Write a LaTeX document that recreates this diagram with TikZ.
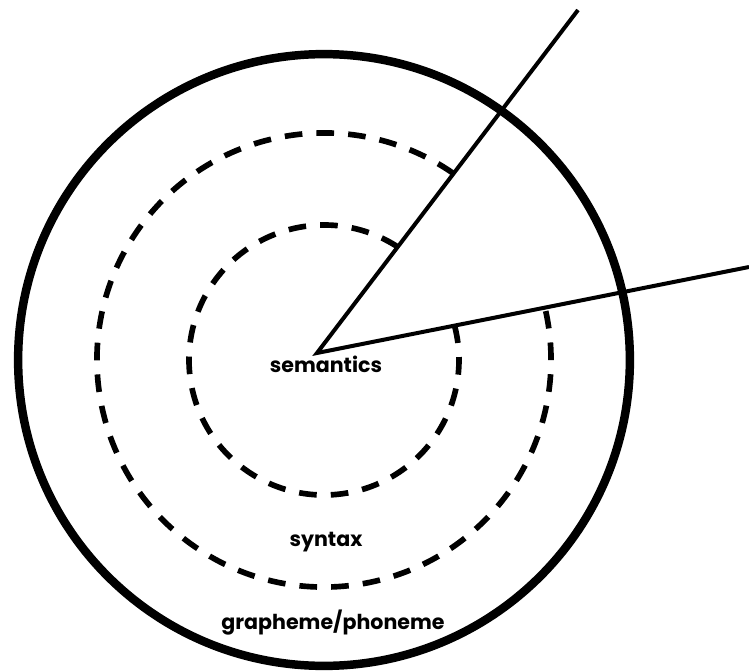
\documentclass[tikz,border=0pt]{standalone}
\usepackage{fontspec}
\setmainfont{Poppins}
\usetikzlibrary{calc}

\begin{document}
\begin{tikzpicture}[
  x=0.85pt, y=-0.85pt,
  rim/.style={draw, line width=7.2pt},
  layer/.style={draw, line width=4.8pt, dash pattern=on 15pt off 12pt},
  ray/.style={draw, line width=3.4pt, line join=miter},
  lbl/.style={font=\fontsize{17.5}{20}\selectfont\bfseries, inner sep=0pt},
]
\useasboundingbox (0,0) rectangle (749,672);

% centre of the rings and the two rays
\coordinate (O) at (324,360);
\coordinate (apex) at (317,353);
\coordinate (tipA) at (578,10);
\coordinate (tipB) at (749,267);

% outer ring
\draw[rim] (O) circle[radius=260pt];

% dashed layers, open between the rays
\draw[layer] ([shift={(57.2:114.75pt)}]O) arc[start angle=57.2, end angle=375.2, radius=114.75pt];
\draw[layer] ([shift={(55.4:193pt)}]O) arc[start angle=55.4, end angle=373.6, radius=193pt];

% rays
\draw[ray] (tipA) -- (apex) -- (tipB);

% labels
\node[lbl] (sem) at (326,364) {semantics};
\node[lbl] (syn) at (326,542) {syntax};
\node[lbl] (gph) at (333,623) {grapheme/phoneme};

\end{tikzpicture}
\end{document}
